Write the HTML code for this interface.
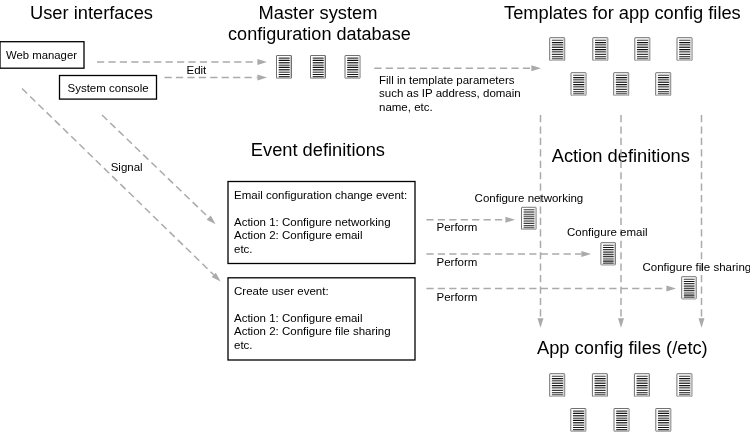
<!DOCTYPE html>
<html><head><meta charset="utf-8">
<style>
html,body{margin:0;padding:0;background:#fff;}
svg{filter:grayscale(1);}
svg{display:block;}
text{font-family:"Liberation Sans",sans-serif;fill:#000;}
.t{font-size:18.3px;}
.s{font-size:11.5px;}
.d{stroke:#aaa;stroke-width:1.5;stroke-dasharray:7.2 4.23;fill:none;}
.b{fill:#fff;stroke:#000;stroke-width:1.3;}
.ah{fill:#aaa;}
</style></head>
<body>
<svg width="750" height="432" viewBox="0 0 750 432">
<defs>
<g id="doc">
<rect x="0.5" y="0.5" width="15" height="22.8" rx="0.4" fill="#fff" stroke="#707070" stroke-width="1"/>
<rect x="14" y="1" width="1" height="22" fill="#c8c8c8"/>
<rect x="2.6" y="8.1" width="11.2" height="1.5" fill="#c8c8c8"/>
<rect x="2.6" y="15.0" width="11.2" height="1.6" fill="#c8c8c8"/>
<rect x="1" y="22.3" width="14" height="1.5" fill="#bdbdbd"/>
<g stroke-width="1.1" stroke-linecap="round">
<line x1="3.1" x2="13.3" y1="3.1" y2="3.1" stroke="#3a3a3a"/>
<line x1="3.1" x2="13.3" y1="5.4" y2="5.4" stroke="#111"/>
<line x1="3.1" x2="13.3" y1="7.6" y2="7.6" stroke="#3a3a3a"/>
<line x1="3.1" x2="13.3" y1="10.2" y2="10.2" stroke="#3a3a3a"/>
<line x1="3.1" x2="13.3" y1="12.4" y2="12.4" stroke="#111"/>
<line x1="3.1" x2="13.3" y1="14.6" y2="14.6" stroke="#3a3a3a"/>
<line x1="3.1" x2="13.3" y1="17.3" y2="17.3" stroke="#3a3a3a"/>
<line x1="3.1" x2="13.3" y1="19.5" y2="19.5" stroke="#111"/>
<line x1="3.1" x2="13.3" y1="21.6" y2="21.6" stroke="#3a3a3a"/>
</g>
</g>
</defs>
<text class="t" x="30" y="18.7">User interfaces</text>
<text class="t" x="318" y="18.7" text-anchor="middle">Master system</text>
<text class="t" x="319.4" y="39.5" text-anchor="middle" textLength="182.6" lengthAdjust="spacingAndGlyphs">configuration database</text>
<text class="t" x="504" y="18.7">Templates for app config files</text>
<text class="t" x="250.8" y="156">Event definitions</text>
<text class="t" x="551.7" y="162">Action definitions</text>
<text class="t" x="537" y="354">App config files (/etc)</text>
<rect class="b" x="0" y="41.7" width="84" height="26.5"/>
<text class="s" x="6" y="58.5" textLength="71" lengthAdjust="spacingAndGlyphs">Web manager</text>
<rect class="b" x="59.5" y="75.5" width="97" height="23.6"/>
<text class="s" x="67.5" y="91.5">System console</text>
<line class="d" x1="97.00" y1="62.00" x2="256.40" y2="62.00"/>
<polygon class="ah" points="267.00,62.00 257.40,65.00 257.40,59.00"/>

<line class="d" x1="164.50" y1="77.50" x2="256.40" y2="77.50"/>
<polygon class="ah" points="267.00,77.50 257.40,80.50 257.40,74.50"/>

<text class="s" x="186.5" y="73.5">Edit</text>
<use href="#doc" x="276" y="55"/>
<use href="#doc" x="310" y="55"/>
<use href="#doc" x="344.5" y="55"/>
<line class="d" x1="374.30" y1="68.30" x2="531.40" y2="68.30"/>
<polygon class="ah" points="541.00,68.30 531.40,71.30 531.40,65.30"/>

<text class="s" x="379" y="83.5">Fill in template parameters</text>
<text class="s" x="379" y="97.3">such as IP address, domain</text>
<text class="s" x="379" y="111">name, etc.</text>
<use href="#doc" x="549.2" y="37.2"/>
<use href="#doc" x="592.3" y="37.2"/>
<use href="#doc" x="634.3" y="37.2"/>
<use href="#doc" x="676.5" y="37.2"/>
<use href="#doc" x="570.5" y="72.2"/>
<use href="#doc" x="613.2" y="72.2"/>
<use href="#doc" x="655.2" y="72.2"/>
<line class="d" x1="540.50" y1="115.00" x2="540.50" y2="318.20"/>
<polygon class="ah" points="540.50,327.80 537.50,318.20 543.50,318.20"/>

<line class="d" x1="621.00" y1="115.00" x2="621.00" y2="318.20"/>
<polygon class="ah" points="621.00,327.80 618.00,318.20 624.00,318.20"/>

<line class="d" x1="701.50" y1="115.00" x2="701.50" y2="318.20"/>
<polygon class="ah" points="701.50,327.80 698.50,318.20 704.50,318.20"/>

<line class="d" x1="22.00" y1="88.50" x2="213.72" y2="274.81"/>
<polygon class="ah" points="220.60,281.50 211.62,276.96 215.81,272.66"/>

<line class="d" x1="102.00" y1="115.00" x2="208.68" y2="217.55"/>
<polygon class="ah" points="215.60,224.20 206.60,219.71 210.76,215.38"/>

<text class="s" x="110.7" y="171.4">Signal</text>
<rect class="b" x="228" y="181.5" width="187" height="82"/>
<text class="s" x="234" y="198.8">Email configuration change event:</text>
<text class="s" x="234" y="225.8">Action 1: Configure networking</text>
<text class="s" x="234" y="239.3">Action 2: Configure email</text>
<text class="s" x="234" y="252.8">etc.</text>
<rect class="b" x="228" y="277.8" width="187" height="82.2"/>
<text class="s" x="234" y="294.5">Create user event:</text>
<text class="s" x="234" y="321.7">Action 1: Configure email</text>
<text class="s" x="234" y="335.3">Action 2: Configure file sharing</text>
<text class="s" x="234" y="348.9">etc.</text>
<line class="d" x1="426.40" y1="219.80" x2="505.40" y2="219.80"/>
<polygon class="ah" points="515.00,219.80 505.40,222.80 505.40,216.80"/>

<text class="s" x="436.5" y="230.5">Perform</text>
<line class="d" x1="426.40" y1="254.10" x2="581.40" y2="254.10"/>
<polygon class="ah" points="591.00,254.10 581.40,257.10 581.40,251.10"/>

<text class="s" x="436.5" y="265.5">Perform</text>
<line class="d" x1="426.40" y1="288.50" x2="666.40" y2="288.50"/>
<polygon class="ah" points="676.00,288.50 666.40,291.50 666.40,285.50"/>

<text class="s" x="436.5" y="300.6">Perform</text>
<text class="s" x="474.6" y="201.5">Configure networking</text>
<use href="#doc" transform="translate(521,206.8) scale(0.97)"/>
<text class="s" x="567" y="235.7">Configure email</text>
<use href="#doc" transform="translate(600.4,242.2) scale(0.97)"/>
<text class="s" x="642.5" y="270.5">Configure file sharing</text>
<use href="#doc" transform="translate(681.2,276.2) scale(0.97)"/>
<use href="#doc" x="549.2" y="373.2"/>
<use href="#doc" x="591.9" y="373.2"/>
<use href="#doc" x="633.9" y="373.2"/>
<use href="#doc" x="676.4" y="373.2"/>
<use href="#doc" x="570.3" y="408"/>
<use href="#doc" x="613.5" y="408"/>
<use href="#doc" x="655.3" y="408"/>
</svg>
</body></html>
